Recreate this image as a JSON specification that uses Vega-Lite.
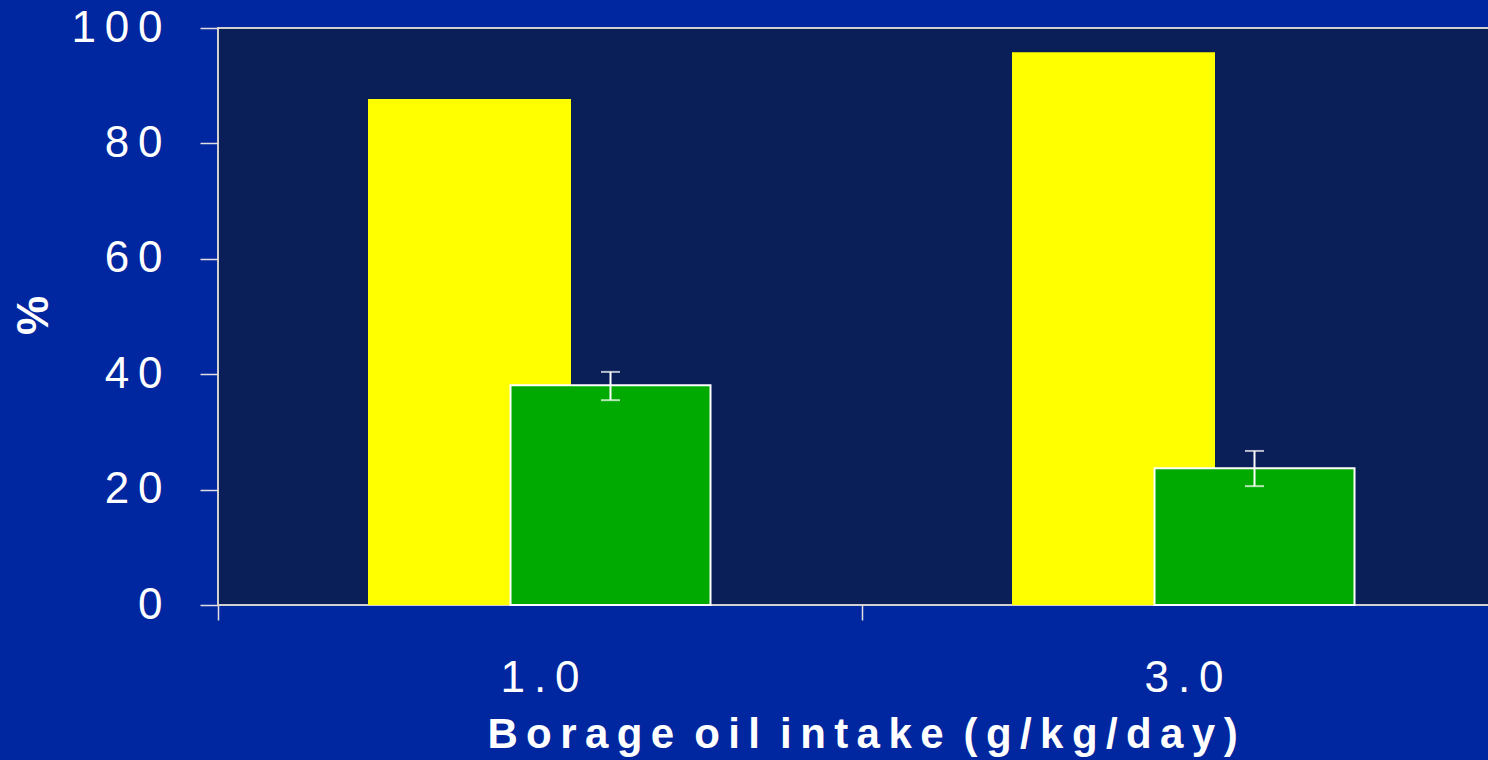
{
  "$schema": "https://vega.github.io/schema/vega-lite/v6.json",
  "autosize": {"type": "none"},
  "padding": {"left": 218, "top": 28, "right": 0, "bottom": 155},
  "width": 1288,
  "height": 577,
  "background": "#0026a0",
  "config": {
    "view": {"fill": "#0a1e58", "stroke": "#d0d0d0", "strokeWidth": 2},
    "font": "Liberation Sans"
  },
  "data": {
    "values": [
      {"dose": "1.0", "series": "A", "value": 87.7},
      {"dose": "3.0", "series": "A", "value": 95.8},
      {"dose": "1.0", "series": "B", "value": 38.1, "lo": 35.5, "hi": 40.4},
      {"dose": "3.0", "series": "B", "value": 23.7, "lo": 20.6, "hi": 26.7}
    ]
  },
  "encoding": {
    "x": {
      "field": "dose",
      "type": "nominal",
      "sort": ["1.0", "3.0"],
      "scale": {"paddingInner": 0, "paddingOuter": 0},
      "axis": {
        "title": "B\u2009o\u2009r\u2009a\u2009g\u2009e\u2009 o\u2009i\u2009l\u2009 i\u2009n\u2009t\u2009a\u2009k\u2009e\u2009 (\u2009g\u2009/\u2009k\u2009g\u2009/\u2009d\u2009a\u2009y\u2009)",
        "labelAngle": 0,
        "domain": false,
        "ticks": true,
        "bandPosition": 0,
        "tickColor": "#e0e0e0",
        "tickWidth": 1.5,
        "tickSize": 15,
        "labelColor": "white",
        "labelFontSize": 44,
        "labelPadding": 36,
        "labelFont": "Liberation Sans",
        "labelExpr": "join(split(datum.label, ''), '\u2009')",
        "titleColor": "white",
        "titleFontSize": 42,
        "titleFontWeight": "bold",
        "titleFont": "Liberation Sans",
        "titlePadding": 14
      }
    }
  },
  "layer": [
    {
      "transform": [{"filter": "datum.series == 'A'"}],
      "mark": {"type": "bar", "width": 203, "xOffset": -70.5, "color": "#ffff00"},
      "encoding": {
        "y": {
          "field": "value",
          "type": "quantitative",
          "scale": {"domain": [0, 100], "nice": false},
          "axis": {
            "title": "%",
            "values": [0, 20, 40, 60, 80, 100],
            "grid": false,
            "domain": false,
            "tickColor": "#e0e0e0",
            "tickWidth": 1.5,
            "tickSize": 18,
            "labelColor": "white",
            "labelFontSize": 44,
            "labelPadding": 38,
            "labelFont": "Liberation Sans",
            "labelExpr": "join(split(datum.label, ''), '\u2009')",
            "titleColor": "white",
            "titleFontSize": 44,
            "titleFontWeight": "bold",
            "titleFont": "Liberation Sans",
            "titleX": -184,
            "titleY": 287,
            "titleAngle": 270,
            "titleAlign": "center",
            "titleBaseline": "middle"
          }
        }
      }
    },
    {
      "transform": [{"filter": "datum.series == 'B'"}],
      "mark": {"type": "bar", "width": 200, "xOffset": 70.5, "color": "#00aa00", "stroke": "white", "strokeWidth": 2},
      "encoding": {"y": {"field": "value", "type": "quantitative"}}
    },
    {
      "transform": [{"filter": "datum.series == 'B'"}],
      "mark": {"type": "rule", "xOffset": 70.5, "color": "white", "strokeWidth": 2},
      "encoding": {"y": {"field": "lo", "type": "quantitative"}, "y2": {"field": "hi"}}
    },
    {
      "transform": [{"filter": "datum.series == 'B'"}],
      "mark": {"type": "tick", "xOffset": 70.5, "color": "white", "thickness": 2, "size": 19, "orient": "horizontal"},
      "encoding": {"y": {"field": "lo", "type": "quantitative"}}
    },
    {
      "transform": [{"filter": "datum.series == 'B'"}],
      "mark": {"type": "tick", "xOffset": 70.5, "color": "white", "thickness": 2, "size": 19, "orient": "horizontal"},
      "encoding": {"y": {"field": "hi", "type": "quantitative"}}
    }
  ]
}
